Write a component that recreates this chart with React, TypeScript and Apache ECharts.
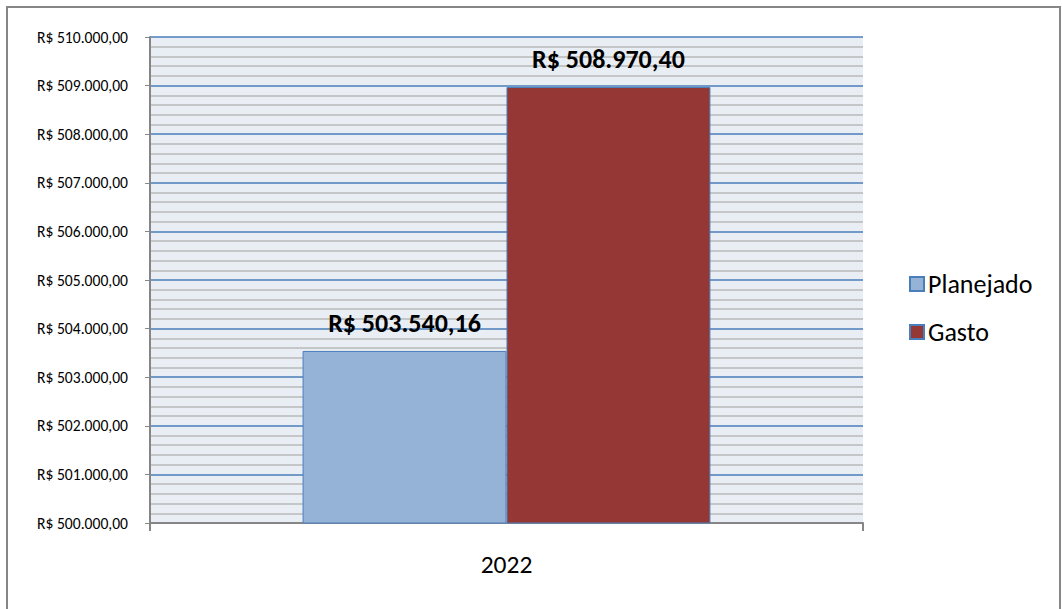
import React, { useEffect, useRef } from "react";
import * as echarts from "echarts";

const categories = ["2022"];
const seriesNames = ["Planejado", "Gasto"];
const planejado = [503540.16];
const gasto = [508970.4];
const yMin = 500000;
const yMax = 510000;
const yStep = 1000;

function brl(v: number): string {
  const [int, dec] = v.toFixed(2).split(".");
  const withDots = int.replace(/\B(?=(\d{3})+(?!\d))/g, ".");
  return "R$ " + withDots + "," + dec;
}

const FONT = "Carlito, Calibri, 'Open Sans', sans-serif";

export default function App() {
  const ref = useRef<HTMLDivElement>(null);
  useEffect(() => {
    document.body.style.margin = "0";
    const chart = echarts.init(ref.current!, null, { renderer: "svg" });
    const label = {
      show: true,
      position: "top",
      distance: 15,
      formatter: (p: any) => brl(p.value),
      fontFamily: FONT,
      fontWeight: "bold",
      fontSize: 26,
      color: "#000",
    };
    chart.setOption({
      animation: false,
      backgroundColor: "#ffffff",
      graphic: [
        {
          type: "rect",
          shape: { x: 7, y: 7, width: 1053, height: 620 },
          style: { fill: "none", stroke: "#868686", lineWidth: 2 },
          silent: true,
          z: 100,
        },
      ],
      grid: {
        left: 150,
        right: 199,
        top: 37,
        bottom: 86,
        show: true,
        backgroundColor: "#e9edf4",
        borderWidth: 0,
      },
      legend: {
        orient: "vertical",
        left: 904,
        top: 266,
        itemWidth: 14,
        itemHeight: 14,
        itemGap: 22,
        icon: "rect",
        data: seriesNames,
        textStyle: { fontFamily: FONT, fontSize: 26, lineHeight: 26, color: "#000", padding: [0, 0, 0, -1] },
      },
      xAxis: {
        type: "category",
        data: categories,
        axisLine: { lineStyle: { color: "#868686", width: 2 } },
        axisTick: { show: true, length: 8, lineStyle: { color: "#868686", width: 2 } },
        axisLabel: { fontFamily: FONT, fontSize: 25.5, color: "#000", margin: 28 },
        splitLine: { show: false },
      },
      yAxis: {
        type: "value",
        min: yMin,
        max: yMax,
        interval: yStep,
        axisLine: { show: true, lineStyle: { color: "#868686", width: 2 } },
        axisTick: { show: true, length: 5, lineStyle: { color: "#868686", width: 1 } },
        axisLabel: {
          fontFamily: FONT,
          fontSize: 15.6,
          color: "#000",
          margin: 22,
          formatter: (v: number) => brl(v),
        },
        splitLine: { show: true, lineStyle: { color: "#4a7ebb", width: 1.5 } },
        minorTick: { show: false, splitNumber: 5 },
        minorSplitLine: { show: true, lineStyle: { color: "#b9b9b9", width: 1.5 } },
      },
      series: [
        {
          name: seriesNames[0],
          type: "bar",
          data: planejado,
          barGap: "0%",
          barCategoryGap: "42.8%",
          itemStyle: { color: "#95b3d7", borderColor: "#4a7ebb", borderWidth: 1 },
          label,
        },
        {
          name: seriesNames[1],
          type: "bar",
          data: gasto,
          itemStyle: { color: "#953735", borderColor: "#4a7ebb", borderWidth: 1 },
          label,
        },
      ],
    });
    return () => chart.dispose();
  }, []);
  return <div ref={ref} style={{ width: 1062, height: 609 }} />;
}
